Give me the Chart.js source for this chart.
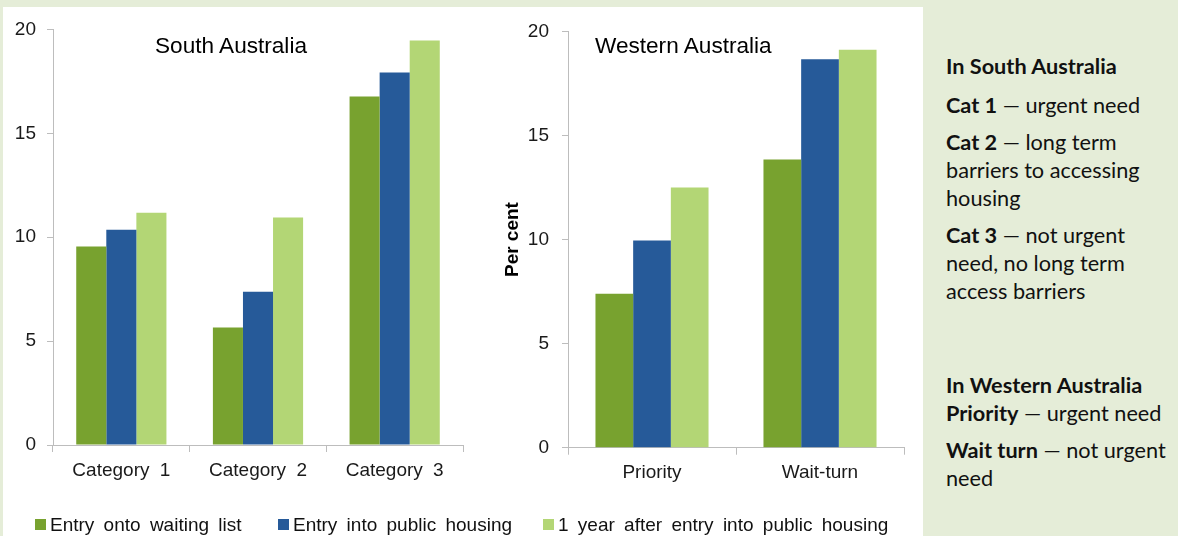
<!DOCTYPE html>
<html>
<head>
<meta charset="utf-8">
<script src="https://cdn.jsdelivr.net/npm/chart.js@4"></script>
<style>
  html, body { margin: 0; padding: 0; }
  body { width: 1178px; height: 536px; background: #E5EDD8; position: relative; overflow: hidden; font-family: "Liberation Sans", Arial, sans-serif; }
  #panel { position: absolute; left: 3px; top: 7px; width: 920px; height: 529px; background: #fff; }
  .cv { position: absolute; top: 7px; height: 490px; }
  #c1 { left: 3px; width: 467px; }
  #c2 { left: 470px; width: 453px; }
  .ctitle { position: absolute; font-size: 22.6px; line-height: 22px; color: #000; white-space: nowrap; }
  #legend { position: absolute; left: 0; top: 0; width: 923px; height: 536px; pointer-events: none; }
  .li { position: absolute; top: 514px; font-size: 19px; line-height: 22px; color: #111; white-space: nowrap; word-spacing: 4px; }
  .sw { position: absolute; top: 519px; width: 11px; height: 11px; }
  .side { position: absolute; left: 946px; font-family: Lato, "Open Sans", sans-serif; font-size: 21.7px; line-height: 28px; color: #111; white-space: nowrap; }
  .side b { font-weight: 700; }
</style>
</head>
<body>
<div id="panel"></div>
<div class="cv" id="c1"><canvas id="chartSA"></canvas></div>
<div class="cv" id="c2"><canvas id="chartWA"></canvas></div>
<div class="ctitle" id="t1" style="left:155px; top:35px;">South Australia</div>
<div class="ctitle" id="t2" style="left:595px; top:35px;">Western Australia</div>
<div id="legend"></div>

<div class="side" style="top:52px;"><b>In South Australia</b></div>
<div class="side" style="top:91px;"><b>Cat 1</b> — urgent need</div>
<div class="side" style="top:128px;"><b>Cat 2</b> — long term<br>barriers to accessing<br>housing</div>
<div class="side" style="top:221px;"><b>Cat 3</b> — not urgent<br>need, no long term<br>access barriers</div>
<div class="side" style="top:371px;"><b>In Western Australia</b><br><b>Priority</b> — urgent need</div>
<div class="side" style="top:436px;"><b>Wait turn</b> — not urgent<br>need</div>

<script>
// ---- data ----
const saCategories = ['Category 1', 'Category 2', 'Category 3'];
const waCategories = ['Priority', 'Wait-turn'];
const seriesNames = ['Entry onto waiting list', 'Entry into public housing', '1 year after entry into public housing'];

const saEntryWaiting = [9.55, 5.66, 16.77];
const saEntryHousing = [10.36, 7.38, 17.92];
const saOneYear = [11.18, 10.95, 19.46];

const waEntryWaiting = [7.4, 13.85];
const waEntryHousing = [9.95, 18.66];
const waOneYear = [12.5, 19.12];

const yMin = 0, yMax = 20, yStep = 5;
const yTitle = 'Per cent';

// ---- styles ----
const colors = ['#78A22F', '#265A99', '#B3D675'];
const FONT = '"Liberation Sans", Arial, sans-serif';
const axisColor = '#BDBDBD';

const wordSpacingPlugin = {
  id: 'wordSpacing',
  beforeDraw(chart) { try { chart.ctx.wordSpacing = '5px'; } catch (e) {} }
};

function makeChart(id, labels, series, opts) {
  const datasets = series.map((d, i) => ({
    label: seriesNames[i],
    data: d,
    backgroundColor: colors[i],
    borderWidth: 0,
    categoryPercentage: opts.catPct,
    barPercentage: 1
  }));
  return new Chart(document.getElementById(id), {
    type: 'bar',
    data: { labels, datasets },
    plugins: opts.wordSpacing ? [wordSpacingPlugin] : [],
    options: {
      responsive: true,
      maintainAspectRatio: false,
      animation: false,
      devicePixelRatio: 1,
      layout: { padding: { left: 0, right: opts.padRight, top: 19, bottom: 0 } },
      plugins: { legend: { display: false }, tooltip: { enabled: false }, title: { display: false } },
      scales: {
        x: {
          grid: { display: true, drawOnChartArea: false, drawTicks: true, tickLength: 7, color: axisColor, offset: true },
          border: { display: true, color: axisColor, width: 1 },
          ticks: { color: '#1a1a1a', font: { family: FONT, size: 19 }, padding: 7, maxRotation: 0, autoSkip: false },
          afterFit(scale) { scale.height = opts.xHeight; }
        },
        y: {
          min: yMin, max: yMax,
          grid: { display: true, drawOnChartArea: false, drawTicks: true, tickLength: 6, color: axisColor },
          border: { display: true, color: axisColor, width: 1 },
          ticks: { stepSize: yStep, color: '#1a1a1a', font: { family: FONT, size: 19 }, padding: opts.yPad },
          title: opts.showTitle ? { display: true, text: yTitle, color: '#000', font: { family: FONT, size: 19, weight: 'bold' }, padding: { top: 31, bottom: 0 } } : { display: false },
          afterFit(scale) { scale.width = opts.yWidth; }
        }
      }
    }
  });
}

makeChart('chartSA', saCategories, [saEntryWaiting, saEntryHousing, saOneYear],
  { catPct: 0.66, padRight: 7, xHeight: 52, yWidth: 50, yPad: 11, showTitle: false, wordSpacing: true });
makeChart('chartWA', waCategories, [waEntryWaiting, waEntryHousing, waOneYear],
  { catPct: 0.673, padRight: 19, xHeight: 49.3, yWidth: 98, yPad: 13, showTitle: true, wordSpacing: false });

// ---- shared legend ----
const legendPos = [{ sw: 35, tx: 50 }, { sw: 278, tx: 293 }, { sw: 543, tx: 558 }];
const legend = document.getElementById('legend');
seriesNames.forEach((name, i) => {
  const sw = document.createElement('div');
  sw.className = 'sw';
  sw.style.left = legendPos[i].sw + 'px';
  sw.style.background = colors[i];
  legend.appendChild(sw);
  const tx = document.createElement('div');
  tx.className = 'li';
  tx.style.left = legendPos[i].tx + 'px';
  tx.textContent = name;
  legend.appendChild(tx);
});
</script>
</body>
</html>
